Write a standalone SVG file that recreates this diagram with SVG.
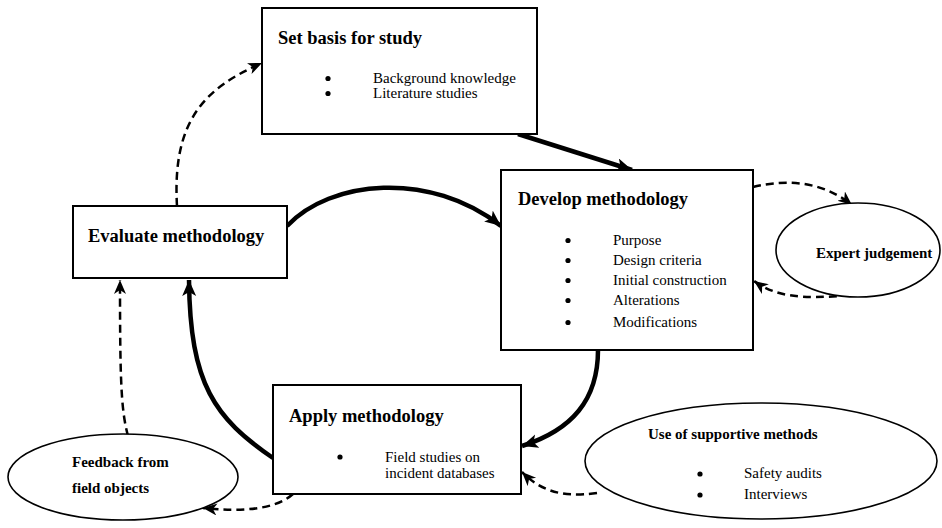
<svg xmlns="http://www.w3.org/2000/svg" width="942" height="528" viewBox="0 0 942 528">
<style>
.box{fill:#fff;stroke:#000;stroke-width:2}
.ell{fill:#fff;stroke:#000;stroke-width:1.6}
.bl{fill:#000}
text{font-family:'Liberation Serif','DejaVu Serif',serif;fill:#000}
.h{font-weight:bold;font-size:18.5px}
.hs{font-weight:bold;font-size:15px}
.t{font-size:15px}
.thick{fill:none;stroke:#000;stroke-width:4.5;marker-end:url(#ah)}
.dash{fill:none;stroke:#000;stroke-width:2.5;stroke-dasharray:8 5;marker-end:url(#ad)}
</style>
<defs>
<marker id="ah" markerUnits="userSpaceOnUse" markerWidth="18" markerHeight="16" refX="16" refY="7" orient="auto">
<path d="M0,0 L16,7 L0,14 L4,7 z" fill="#000"/>
</marker>
<marker id="ad" markerUnits="userSpaceOnUse" markerWidth="16" markerHeight="14" refX="14" refY="6" orient="auto">
<path d="M0,0 L14,6 L0,12 L4,6 z" fill="#000"/>
</marker>
</defs>
<g id="connectors">
<path class="thick" d="M518,134 L632,170"/>
<path class="thick" d="M287,226 C330,180 430,170 501,226"/>
<path class="thick" d="M598,350 C598,400 572,430 522,446"/>
<path class="thick" d="M273,458 C215,418 190,385 189,280"/>
<path class="dash" d="M177,206 C172,120 205,88 262,63"/>
<path class="dash" d="M753,187 C790,178 825,183 852,205"/>
<path class="dash" d="M850,295 C800,300 775,296 754,281"/>
<path class="dash" d="M128,436 C121,410 120,380 120,280"/>
<path class="dash" d="M597,493 C560,498 540,490 522,472"/>
<path class="dash" d="M293,494 C275,510 240,512 203,508"/>
</g>
<g id="set-basis">
<rect class="box" x="262" y="8" width="275" height="126"/>
<text class="h" x="278" y="44">Set basis for study</text>
<circle class="bl" cx="328" cy="78.5" r="2.6"/>
<text class="t" x="373" y="83">Background knowledge</text>
<circle class="bl" cx="328" cy="93.5" r="2.6"/>
<text class="t" x="373" y="98">Literature studies</text>
</g>
<g id="develop">
<rect class="box" x="501" y="170" width="252" height="180"/>
<text class="h" x="518" y="205">Develop methodology</text>
<circle class="bl" cx="568" cy="240.5" r="2.6"/><text class="t" x="613" y="245">Purpose</text>
<circle class="bl" cx="568" cy="260.5" r="2.6"/><text class="t" x="613" y="265">Design criteria</text>
<circle class="bl" cx="568" cy="280.5" r="2.6"/><text class="t" x="613" y="285">Initial construction</text>
<circle class="bl" cx="568" cy="300.5" r="2.6"/><text class="t" x="613" y="305">Alterations</text>
<circle class="bl" cx="568" cy="322.5" r="2.6"/><text class="t" x="613" y="327">Modifications</text>
</g>
<g id="evaluate">
<rect class="box" x="73" y="206" width="214" height="72"/>
<text class="h" x="88" y="242">Evaluate methodology</text>
</g>
<g id="apply">
<rect class="box" x="273" y="385" width="248" height="109"/>
<text class="h" x="289" y="422">Apply methodology</text>
<circle class="bl" cx="340" cy="457" r="2.6"/>
<text class="t" x="385" y="462">Field studies on</text>
<text class="t" x="385" y="478">incident databases</text>
</g>
<g id="expert">
<ellipse class="ell" cx="858" cy="250" rx="82" ry="47"/>
<text class="hs" x="816" y="258">Expert judgement</text>
</g>
<g id="supportive">
<ellipse class="ell" cx="761" cy="461" rx="176" ry="58"/>
<text class="hs" x="648" y="439">Use of supportive methods</text>
<circle class="bl" cx="700" cy="474" r="2.6"/><text class="t" x="744" y="478">Safety audits</text>
<circle class="bl" cx="700" cy="495" r="2.6"/><text class="t" x="744" y="499">Interviews</text>
</g>
<g id="feedback">
<ellipse class="ell" cx="123" cy="477" rx="115" ry="43"/>
<text class="hs" x="72" y="467">Feedback from</text>
<text class="hs" x="72" y="493">field objects</text>
</g>
</svg>
